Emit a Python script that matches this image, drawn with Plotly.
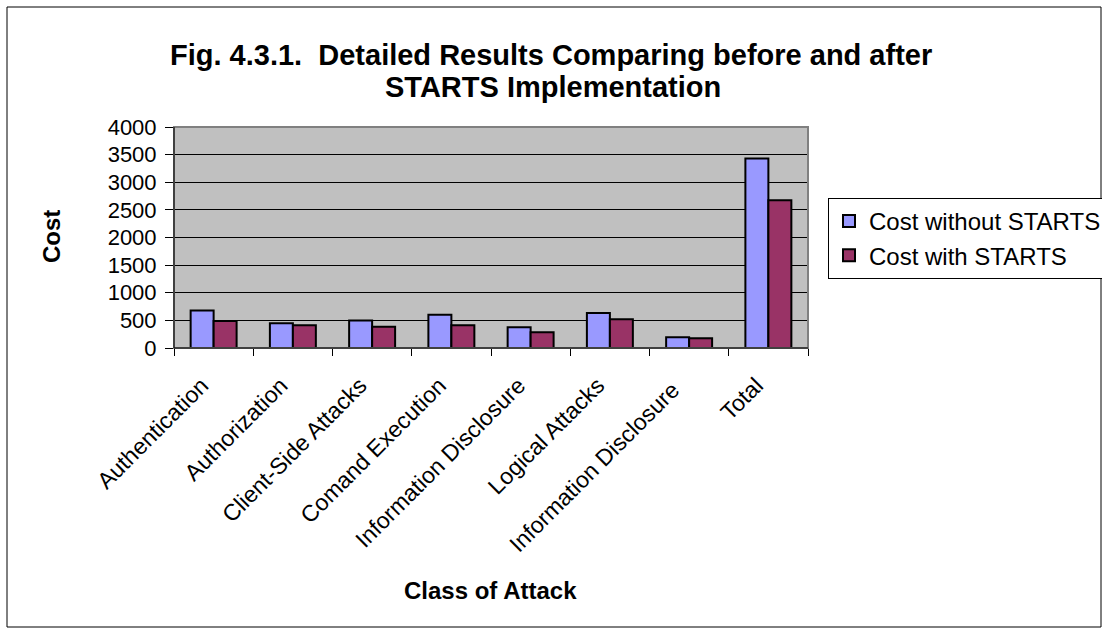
import plotly.graph_objects as go

categories = ["Authentication", "Authorization", "Client-Side Attacks", "Comand Execution",
              "Information Disclosure", "Logical Attacks", "Information Disclosure ", "Total"]
cost_without = [680, 450, 500, 600, 375, 635, 195, 3430]
cost_with = [490, 410, 385, 410, 285, 520, 175, 2675]
y_ticks = [0, 500, 1000, 1500, 2000, 2500, 3000, 3500, 4000]

W, H = 1102, 633
L, R, T, B = 174, 808, 127, 348
pw, ph = R - L, B - T


def px_x(v):
    return (v - L) / pw


def px_y(v):
    return (B - v) / ph


fig = go.Figure()
fig.add_trace(go.Bar(x=categories, y=cost_without, name="Cost without STARTS",
                     marker=dict(color="#9999FF", line=dict(color="black", width=2))))
fig.add_trace(go.Bar(x=categories, y=cost_with, name="Cost with STARTS",
                     marker=dict(color="#993366", line=dict(color="black", width=2))))

font = "Arial, Liberation Sans, sans-serif"
fig.update_layout(
    width=W, height=H,
    margin=dict(l=L, r=W - R, t=T, b=H - B, autoexpand=False),
    paper_bgcolor="white", plot_bgcolor="#C0C0C0",
    barmode="group", bargap=0.42, bargroupgap=0,
    font=dict(family=font, color="black", size=22),
    legend=dict(x=px_x(828), y=px_y(198), xanchor="left", yanchor="top",
                bordercolor="black", borderwidth=1, bgcolor="white",
                font=dict(size=24, family=font), tracegroupgap=4, itemwidth=30),
    showlegend=True,
)
fig.update_xaxes(
    type="category", tickangle=-45, tickson="boundaries", ticks="outside", ticklen=7,
    tickcolor="black", showline=True, linecolor="black", linewidth=1, showgrid=False,
    tickfont=dict(size=23, family=font), ticklabelstandoff=14, ticklabelshift=-12,
)
fig.update_yaxes(
    range=[0, 4000], tickvals=y_ticks, ticks="outside", ticklen=8, tickcolor="black",
    showline=True, linecolor="black", linewidth=1, gridcolor="black", gridwidth=1,
    tickfont=dict(size=22, family=font), zeroline=False, ticklabelstandoff=4,
)
# title lines and axis titles
fig.add_annotation(text="<b>Fig. 4.3.1.  Detailed Results Comparing before and after</b>",
                   xref="paper", yref="paper", x=px_x(551), y=px_y(55), showarrow=False,
                   xanchor="center", yanchor="middle", font=dict(size=29, family=font))
fig.add_annotation(text="<b>STARTS Implementation</b>",
                   xref="paper", yref="paper", x=px_x(553), y=px_y(87), showarrow=False,
                   xanchor="center", yanchor="middle", font=dict(size=29, family=font))
fig.add_annotation(text="<b>Cost</b>", textangle=-90,
                   xref="paper", yref="paper", x=px_x(51), y=px_y(237), showarrow=False,
                   xanchor="center", yanchor="middle", font=dict(size=24, family=font))
fig.add_annotation(text="<b>Class of Attack</b>",
                   xref="paper", yref="paper", x=px_x(490), y=px_y(590), showarrow=False,
                   xanchor="center", yanchor="middle", font=dict(size=24, family=font))
# plot-area border (top/right in grey)
fig.add_shape(type="rect", xref="paper", yref="paper", x0=0, y0=0, x1=1, y1=1,
              line=dict(color="#808080", width=2), layer="above")
fig.add_shape(type="line", xref="paper", yref="paper", x0=0, y0=0, x1=1, y1=0,
              line=dict(color="black", width=1), layer="above")
fig.add_shape(type="line", xref="paper", yref="paper", x0=0, y0=0, x1=0, y1=1,
              line=dict(color="black", width=1), layer="above")
# outer chart border
fig.add_shape(type="rect", xref="paper", yref="paper",
              x0=px_x(7), x1=px_x(1101), y0=px_y(627), y1=px_y(7),
              line=dict(color="black", width=1))
fig.write_html("out.html")
